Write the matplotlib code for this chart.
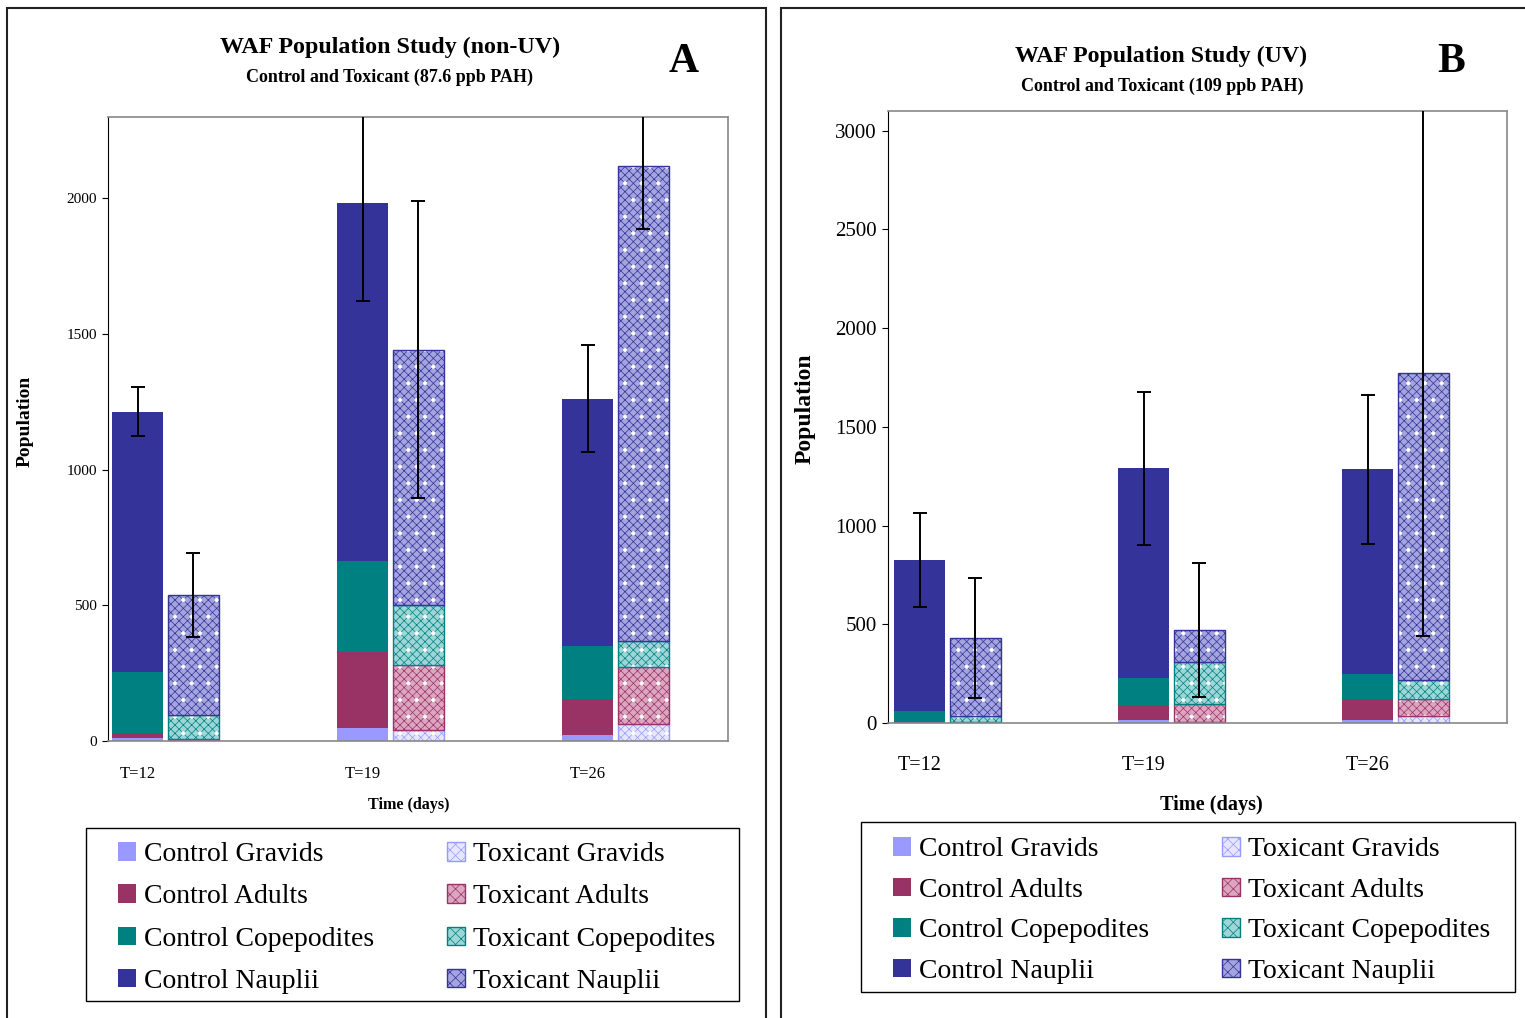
import numpy as np
import matplotlib.pyplot as plt
from matplotlib.patches import Patch, Rectangle

plt.rcParams['font.family'] = ['Liberation Serif', 'DejaVu Serif']
plt.rcParams['hatch.linewidth'] = 0.5

TIMES = ["T=12", "T=19", "T=26"]
STAGES = ["Gravids", "Adults", "Copepodites", "Nauplii"]

# panel A (non-UV, 87.6 ppb PAH)
A_CTRL_GRAVIDS = [10, 48, 22]
A_CTRL_ADULTS = [20, 280, 133]
A_CTRL_COPEP = [225, 336, 195]
A_CTRL_NAUP = [959, 1318, 912]
A_CTRL_ERR = [90, 362, 198]
A_TOX_GRAVIDS = [3, 41, 63]
A_TOX_ADULTS = [4, 239, 210]
A_TOX_COPEP = [89, 222, 96]
A_TOX_NAUP = [443, 941, 1749]
A_TOX_ERR = [155, 548, 232]

# panel B (UV, 109 ppb PAH)
B_CTRL_GRAVIDS = [2, 15, 15]
B_CTRL_ADULTS = [3, 76, 106]
B_CTRL_COPEP = [56, 137, 127]
B_CTRL_NAUP = [764, 1062, 1037]
B_CTRL_ERR = [237, 387, 377]
B_TOX_GRAVIDS = [2, 5, 35]
B_TOX_ADULTS = [5, 91, 86]
B_TOX_COPEP = [28, 213, 97]
B_TOX_NAUP = [395, 161, 1557]
B_TOX_ERR = [303, 339, 1335]

BASE = ["#9999FF", "#993366", "#008080", "#333399"]
LIGHT = ["#E6E6FF", "#DCA6C0", "#9CD6D6", "#A4A4DE"]

W, H = 1525, 1018
fig = plt.figure(figsize=(W / 100, H / 100), dpi=100)


def fx(px):
    return px / W


def fy(py):
    return 1 - py / H


def draw_panel(ax, ctrl, tox, ctrl_err, tox_err, xlim, ylim, yticks, fs_y, fs_x, xpad):
    x = np.arange(len(TIMES))
    off, width = 0.124, 0.227
    bottom = np.zeros(3)
    for i, vals in enumerate(ctrl):
        ax.bar(x - off, vals, width, bottom=bottom, color=BASE[i], linewidth=0)
        bottom = bottom + np.array(vals)
    ax.errorbar(x - off, bottom, yerr=ctrl_err, fmt='none', ecolor='black',
                elinewidth=1.4, capsize=5, capthick=1.4, zorder=5)
    bottom = np.zeros(3)
    for i, vals in enumerate(tox):
        ax.bar(x + off, vals, width, bottom=bottom, color=LIGHT[i],
               edgecolor=BASE[i], hatch='xxxx', linewidth=0)
        ax.bar(x + off, vals, width, bottom=bottom, color='none',
               edgecolor='white', hatch='.', linewidth=0)
        ax.bar(x + off, vals, width, bottom=bottom, color='none',
               edgecolor=BASE[i], linewidth=1.0)
        bottom = bottom + np.array(vals)
    ax.errorbar(x + off, bottom, yerr=tox_err, fmt='none', ecolor='black',
                elinewidth=1.4, capsize=5, capthick=1.4, zorder=5)
    ax.set_xlim(*xlim)
    ax.set_ylim(*ylim)
    ax.set_yticks(yticks)
    ax.set_xticks(x - off)
    ax.set_xticklabels(TIMES, fontsize=fs_x)
    ax.tick_params(axis='x', length=0, pad=xpad)
    ax.tick_params(axis='y', length=4, direction='out', labelsize=fs_y, pad=4)
    for s in ['top', 'right', 'bottom']:
        ax.spines[s].set_color('#888888')
        ax.spines[s].set_linewidth(1.2)
    ax.spines['left'].set_color('black')


def legend_handles():
    hs = [Patch(facecolor=BASE[i], edgecolor='none', label="Control " + s)
          for i, s in enumerate(STAGES)]
    hs += [Patch(facecolor=LIGHT[i], edgecolor=BASE[i], hatch='xxx',
                 label="Toxicant " + s) for i, s in enumerate(STAGES)]
    return hs


# ---- panel A
axA = fig.add_axes([fx(108), fy(741), fx(728) - fx(108), fy(117) - fy(741)])
draw_panel(axA,
           [A_CTRL_GRAVIDS, A_CTRL_ADULTS, A_CTRL_COPEP, A_CTRL_NAUP],
           [A_TOX_GRAVIDS, A_TOX_ADULTS, A_TOX_COPEP, A_TOX_NAUP],
           A_CTRL_ERR, A_TOX_ERR, (-0.256, 2.5), (0, 2300),
           [0, 500, 1000, 1500, 2000], 11, 12, 18)

# ---- panel B
axB = fig.add_axes([fx(888), fy(723), fx(1507) - fx(888), fy(111) - fy(723)])
draw_panel(axB,
           [B_CTRL_GRAVIDS, B_CTRL_ADULTS, B_CTRL_COPEP, B_CTRL_NAUP],
           [B_TOX_GRAVIDS, B_TOX_ADULTS, B_TOX_COPEP, B_TOX_NAUP],
           B_CTRL_ERR, B_TOX_ERR, (-0.266, 2.498), (0, 3100),
           [0, 500, 1000, 1500, 2000, 2500, 3000], 15, 14.5, 24)

# titles and labels
fig.text(fx(390), fy(47), "WAF Population Study (non-UV)", ha='center', va='center',
         fontsize=17.3, fontweight='bold')
fig.text(fx(390), fy(77), "Control and Toxicant (87.6 ppb PAH)", ha='center',
         va='center', fontsize=13, fontweight='bold')
fig.text(fx(684), fy(62), "A", ha='center', va='center', fontsize=30, fontweight='bold')
fig.text(fx(1161), fy(56), "WAF Population Study (UV)", ha='center', va='center',
         fontsize=17.2, fontweight='bold')
fig.text(fx(1162), fy(86), "Control and Toxicant (109 ppb PAH)", ha='center',
         va='center', fontsize=13, fontweight='bold')
fig.text(fx(1451), fy(62), "B", ha='center', va='center', fontsize=30, fontweight='bold')

fig.text(fx(25), fy(421), "Population", rotation=90, ha='center', va='center',
         fontsize=14, fontweight='bold')
fig.text(fx(805), fy(409), "Population", rotation=90, ha='center', va='center',
         fontsize=17, fontweight='bold')
fig.text(fx(409), fy(805), "Time (days)", ha='center', va='center',
         fontsize=11.6, fontweight='bold')
fig.text(fx(1211), fy(805), "Time (days)", ha='center', va='center',
         fontsize=14.6, fontweight='bold')

# legends (frameless, with a drawn box)
fig.legend(handles=legend_handles(), ncol=2, frameon=False, loc='upper left',
           bbox_to_anchor=(fx(118), fy(842)), bbox_transform=fig.transFigure,
           fontsize=20, handlelength=0.65, handleheight=0.65, handletextpad=0.3,
           labelspacing=0.62, columnspacing=2.6, borderpad=0, borderaxespad=0)
fig.legend(handles=legend_handles(), ncol=2, frameon=False, loc='upper left',
           bbox_to_anchor=(fx(893), fy(837)), bbox_transform=fig.transFigure,
           fontsize=20, handlelength=0.65, handleheight=0.65, handletextpad=0.3,
           labelspacing=0.56, columnspacing=2.6, borderpad=0, borderaxespad=0)

for (x0, y0, x1, y1) in [(86, 828, 739, 1001), (861, 822, 1515, 992)]:
    fig.add_artist(Rectangle((fx(x0), fy(y1)), fx(x1) - fx(x0), fy(y0) - fy(y1),
                             transform=fig.transFigure, fill=False,
                             edgecolor='black', linewidth=1.0))

# panel frames
for (x0, y0, x1) in [(7, 8, 766), (781, 8, 1540)]:
    fig.add_artist(Rectangle((fx(x0), fy(1030)), fx(x1) - fx(x0), fy(y0) - fy(1030),
                             transform=fig.transFigure, fill=False,
                             edgecolor='#222222', linewidth=1.5, clip_on=False))

fig.savefig("out.png", dpi=100)
